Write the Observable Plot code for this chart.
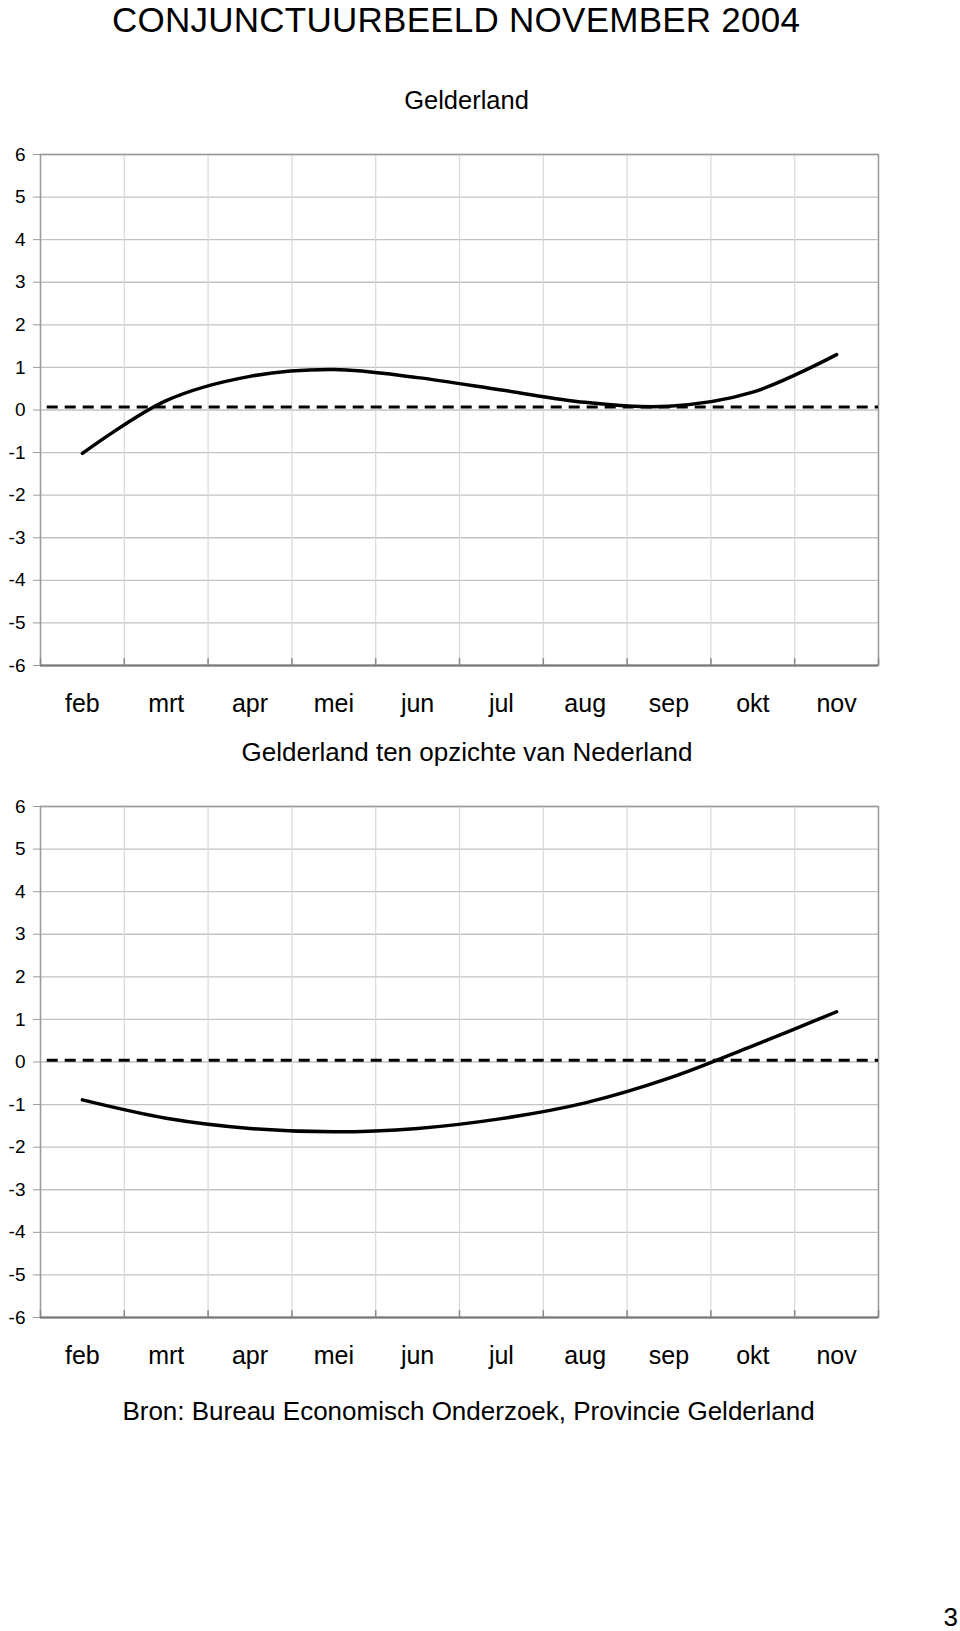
<!DOCTYPE html>
<html>
<head>
<meta charset="utf-8">
<script src="https://cdn.jsdelivr.net/npm/d3@7"></script>
<script src="https://cdn.jsdelivr.net/npm/@observablehq/plot@0.6"></script>
<style>
  body { margin: 0; background: #fff; }
  #page { position: relative; width: 960px; height: 1631px; font-family: "Liberation Sans", Arial, sans-serif; color: #000; overflow: hidden; background: #fff; }
  .t { position: absolute; white-space: nowrap; line-height: 0.8; }
  .c { transform: translateX(-50%); }
  .chart { position: absolute; left: 0; }
</style>
</head>
<body>
<div id="page">
  <div class="t" style="left:112px; top:5.8px; font-size:35px; letter-spacing:0.25px;">CONJUNCTUURBEELD NOVEMBER 2004</div>
  <div class="t c" style="left:466.5px; top:90px; font-size:25.5px;">Gelderland</div>
  <div id="chart1" class="chart" style="top:130px;"></div>
  <div class="t c" style="left:467px; top:741.6px; font-size:26px;">Gelderland ten opzichte van Nederland</div>
  <div id="chart2" class="chart" style="top:782px;"></div>
  <div class="t c" style="left:468.5px; top:1400.6px; font-size:26px;">Bron: Bureau Economisch Onderzoek, Provincie Gelderland</div>
  <div class="t" style="right:2px; top:1607.4px; font-size:26px;">3</div>
</div>
<script>
// ---- data ----
const months = ["feb", "mrt", "apr", "mei", "jun", "jul", "aug", "sep", "okt", "nov"];
const gelderland = [-1.02, 0.22, 0.79, 0.95, 0.76, 0.47, 0.18, 0.09, 0.42, 1.30];
const gelderlandVsNederland = [-0.89, -1.32, -1.56, -1.64, -1.56, -1.33, -0.96, -0.38, 0.38, 1.18];
const yTicks = [-6, -5, -4, -3, -2, -1, 0, 1, 2, 3, 4, 5, 6];
const referenceTop = 0.07;
const referenceBottom = 0.04;

// category boundaries (gridlines between months) and centres
const bounds = d3.range(months.length + 1);
const centres = months.map((m, i) => i + 0.5);

function makeChart(values, ref) {
  const data = months.map((month, i) => ({ month, i, value: values[i] }));
  return Plot.plot({
    width: 960,
    height: 595,
    marginTop: 24,
    marginBottom: 60,
    marginLeft: 40,
    marginRight: 82,
    x: { domain: [0, months.length], label: null },
    y: { domain: [-6, 6], label: null },
    style: { fontFamily: "'Liberation Sans', Arial, sans-serif", color: "#000", background: "transparent", overflow: "visible" },
    marks: [
      Plot.gridY(yTicks, { stroke: "#c2c2c2", strokeOpacity: 1, strokeWidth: 1.3 }),
      Plot.gridX(bounds, { stroke: "#d9d9d9", strokeOpacity: 1, strokeWidth: 1.2 }),
      Plot.frame({ stroke: "#9a9a9a", strokeWidth: 1.5 }),
      Plot.ruleY([-6], { stroke: "#777", strokeWidth: 2 }),
      Plot.ruleX(bounds, { y1: -6, y2: -5.84, stroke: "#888", strokeWidth: 1.5 }),
      Plot.axisY(yTicks, { tickSize: 7, tickPadding: 8, fontSize: 19, stroke: "#999", fill: "#000", label: null, tickFormat: d => String(d) }),
      Plot.axisX(centres, { tickSize: 0, tickPadding: 28.6, fontSize: 25, fill: "#000", label: null, tickFormat: d => months[Math.floor(d)] }),
      Plot.ruleY([ref], { x1: 0.08, x2: months.length, stroke: "#000", strokeWidth: 3, strokeDasharray: "11,7" }),
      Plot.line(data, { x: d => d.i + 0.5, y: "value", curve: "catmull-rom", stroke: "#000", strokeWidth: 3.5, strokeLinecap: "round" })
    ]
  });
}

document.getElementById("chart1").appendChild(makeChart(gelderland, referenceTop));
document.getElementById("chart2").appendChild(makeChart(gelderlandVsNederland, referenceBottom));
</script>
</body>
</html>
